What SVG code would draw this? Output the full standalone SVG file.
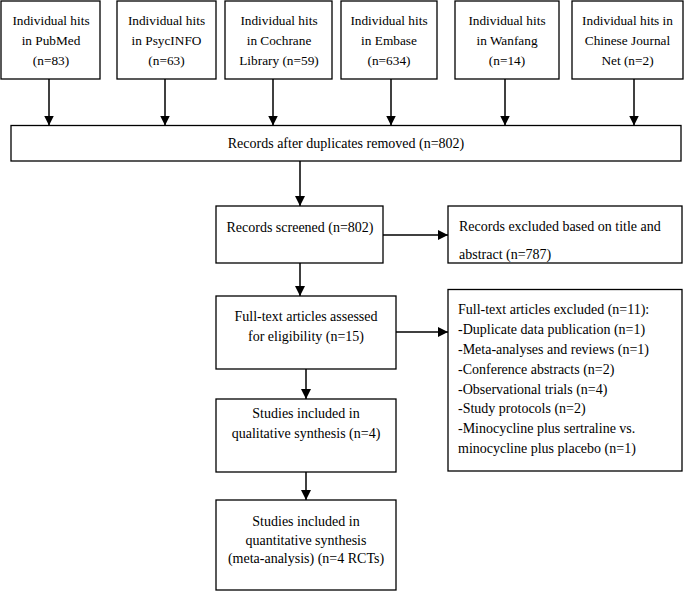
<svg xmlns="http://www.w3.org/2000/svg" width="685" height="600" viewBox="0 0 685 600">
<defs>
<marker id="ah" viewBox="0 0 10 10" refX="10" refY="5" markerWidth="10" markerHeight="10" markerUnits="userSpaceOnUse" orient="auto">
<path d="M0,0 L10,5 L0,10 Z" fill="#000"/>
</marker>
<style>
.box{fill:#fff;stroke:#000;stroke-width:1.3}
text{font-size:14px;fill:#000}
.t{font-size:13.3px;text-anchor:middle}
.c{text-anchor:middle}
.edge{stroke:#000;stroke-width:1.5;fill:none;marker-end:url(#ah)}
</style>
</defs>
<rect width="685" height="600" fill="#fff"/>
<g id="connectors">
<line class="edge" x1="49" y1="79" x2="49" y2="125.5"/>
<line class="edge" x1="165" y1="79" x2="165" y2="125.5"/>
<line class="edge" x1="273" y1="79" x2="273" y2="125.5"/>
<line class="edge" x1="391" y1="79" x2="391" y2="125.5"/>
<line class="edge" x1="505" y1="79" x2="505" y2="125.5"/>
<line class="edge" x1="634" y1="79" x2="634" y2="125.5"/>
<line class="edge" x1="300" y1="161" x2="300" y2="206"/>
<line class="edge" x1="383" y1="235" x2="448" y2="235"/>
<line class="edge" x1="300" y1="263" x2="300" y2="296"/>
<line class="edge" x1="396" y1="332" x2="448" y2="332"/>
<line class="edge" x1="306" y1="369" x2="306" y2="399"/>
<line class="edge" x1="306" y1="472" x2="306" y2="500"/>
</g>
<g font-family="'Liberation Serif', 'DejaVu Serif', serif">
<g id="n_pubmed">
<rect class="box" x="1" y="1" width="99" height="78"/>
<text class="t" x="51" y="25">Individual hits</text>
<text class="t" x="51" y="45">in PubMed</text>
<text class="t" x="51" y="65">(n=83)</text>
</g>
<g id="n_psycinfo">
<rect class="box" x="117" y="1" width="99" height="78"/>
<text class="t" x="166.5" y="25">Individual hits</text>
<text class="t" x="166.5" y="45">in PsycINFO</text>
<text class="t" x="166.5" y="65">(n=63)</text>
</g>
<g id="n_cochrane">
<rect class="box" x="225" y="1" width="107" height="78"/>
<text class="t" x="279" y="25">Individual hits</text>
<text class="t" x="279" y="45">in Cochrane</text>
<text class="t" x="279" y="65">Library (n=59)</text>
</g>
<g id="n_embase">
<rect class="box" x="341" y="1" width="96" height="78"/>
<text class="t" x="389" y="25">Individual hits</text>
<text class="t" x="389" y="45">in Embase</text>
<text class="t" x="389" y="65">(n=634)</text>
</g>
<g id="n_wanfang">
<rect class="box" x="455" y="1" width="104" height="78"/>
<text class="t" x="507" y="25">Individual hits</text>
<text class="t" x="507" y="45">in Wanfang</text>
<text class="t" x="507" y="65">(n=14)</text>
</g>
<g id="n_cjn">
<rect class="box" x="572" y="1" width="111" height="78"/>
<text class="t" x="627.5" y="25">Individual hits in</text>
<text class="t" x="627.5" y="45">Chinese Journal</text>
<text class="t" x="627.5" y="65">Net (n=2)</text>
</g>
<g id="n_records">
<rect class="box" x="11" y="125.5" width="670" height="35.5"/>
<text class="c" x="346" y="148">Records after duplicates removed (n=802)</text>
</g>
<g id="n_screened">
<rect class="box" x="216" y="206" width="167" height="57"/>
<text class="c" x="300" y="232">Records screened (n=802)</text>
</g>
<g id="n_excluded1">
<rect class="box" x="448" y="206" width="234" height="57"/>
<text x="459" y="231">Records excluded based on title and</text>
<text x="459" y="259">abstract (n=787)</text>
</g>
<g id="n_fulltext">
<rect class="box" x="216" y="296" width="180" height="73"/>
<text class="c" x="306" y="320.5">Full-text articles assessed</text>
<text class="c" x="306" y="340.5">for eligibility (n=15)</text>
</g>
<g id="n_excluded2">
<rect class="box" x="448" y="289.5" width="234" height="181.5"/>
<text x="458" y="314">Full-text articles excluded (n=11):</text>
<text x="458" y="334">-Duplicate data publication (n=1)</text>
<text x="458" y="354">-Meta-analyses and reviews (n=1)</text>
<text x="458" y="374">-Conference abstracts (n=2)</text>
<text x="458" y="393.5">-Observational trials (n=4)</text>
<text x="458" y="413">-Study protocols (n=2)</text>
<text x="458" y="433">-Minocycline plus sertraline vs.</text>
<text x="458" y="453">minocycline plus placebo (n=1)</text>
</g>
<g id="n_qualitative">
<rect class="box" x="216" y="399" width="180" height="73"/>
<text class="c" x="306" y="418">Studies included in</text>
<text class="c" x="306" y="438">qualitative synthesis (n=4)</text>
</g>
<g id="n_quantitative">
<rect class="box" x="216" y="500" width="180" height="90"/>
<text class="c" x="306" y="526">Studies included in</text>
<text class="c" x="306" y="544.5">quantitative synthesis</text>
<text class="c" x="306" y="563">(meta-analysis) (n=4 RCTs)</text>
</g>
</g>
</svg>
